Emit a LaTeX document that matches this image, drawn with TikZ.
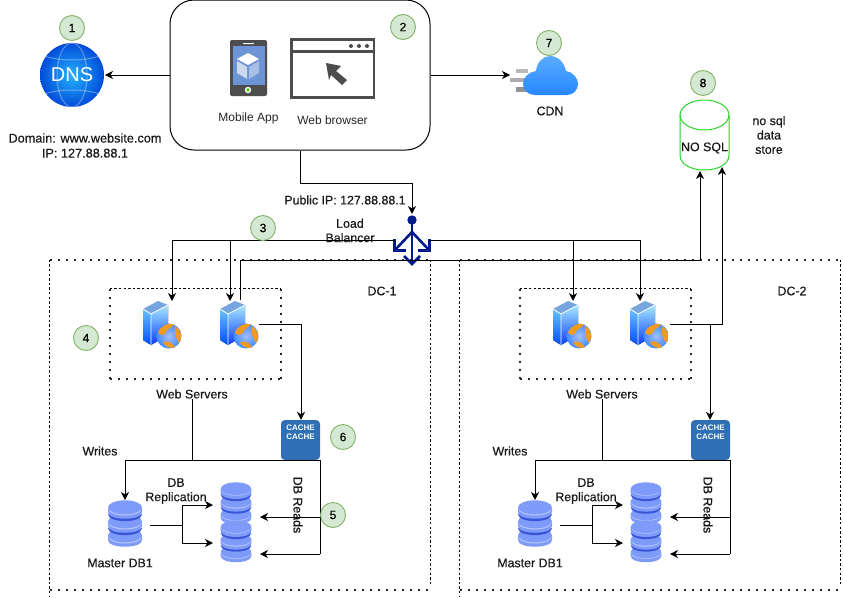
\documentclass[tikz,border=0pt]{standalone}
\usepackage{fontspec}
\setmainfont{Liberation Sans}
\newfontfamily\semifont[FakeBold=0.4]{Liberation Sans}
\newfontfamily\heavyfont[FakeBold=1.2]{Liberation Sans}
\usetikzlibrary{arrows.meta,calc}
\definecolor{badgefill}{HTML}{D5E8D4}
\definecolor{badgeline}{HTML}{82B366}
\definecolor{lbblue}{HTML}{001A8C}
\definecolor{cacheblue}{HTML}{2E6FB5}
\definecolor{dbmain}{HTML}{7F9BFA}
\definecolor{dbdark}{HTML}{3A56D8}
\definecolor{dblight}{HTML}{B4C5FB}
\definecolor{nosql}{HTML}{2BD42B}
\definecolor{icondark}{HTML}{4D4D4D}
\definecolor{globeorange}{HTML}{F29A1F}
\tikzset{
  x=1pt,y=-1pt,
  plainlbl/.style={font=\fontsize{12}{14}\selectfont,align=center,inner sep=0pt,text=black!85},
  lbl/.style={font=\fontsize{12.4}{14.4}\selectfont\semifont,align=center,inner sep=0pt,text=black!90},
  badge/.style={circle,draw=badgeline,fill=badgefill,line width=0.9pt,minimum size=25pt,inner sep=0pt,font=\fontsize{12}{14}\selectfont\semifont},
  conn/.style={draw=black,line width=1pt},
  arr/.style={conn,-{Stealth[length=8pt,width=8pt,inset=2.5pt]}},
  frame/.style={minimum width=380pt,minimum height=330pt,inner sep=0pt},
  wsframe/.style={minimum width=171pt,minimum height=90pt,inner sep=0pt},
  dotsH/.style={draw=black!85,line width=1.8pt,dash pattern=on 1.8pt off 6.2pt},
  dashV/.style={draw=black,line width=1pt,dash pattern=on 2.4pt off 2.2pt},
  lbstroke/.style={draw=lbblue,line width=2.6pt},
  cachebox/.style={fill=cacheblue,rounded corners=4pt,minimum width=39pt,minimum height=40pt,inner sep=0pt,text=white,align=center,font=\fontsize{8}{10}\selectfont\bfseries},
  pics/srv/.style={code={
    \fill[top color=cyan!60!blue!60,bottom color=blue!70!cyan] (0,9)--(8,14)--(8,45)--(0,40)--cycle;
    \fill[top color=blue!25!cyan!35,bottom color=blue!80!cyan!95] (8,14)--(25,5)--(25,35)--(8,45)--cycle;
    \fill[cyan!55!blue!55] (0,9)--(15,1)--(25,5)--(8,14)--cycle;
    \draw[white,line width=0.8pt] (0,9)--(8,14)--(25,5) (8,14)--(8,45);
    \shade[inner color=cyan!25!blue!35,outer color=blue!60!cyan!75] (26,36) circle[radius=12.5pt];
    \fill[globeorange] (15,33) .. controls (17,26) and (25,22) .. (31,24.5) .. controls (29,28) and (23,29) .. (22,34) .. controls (20,36) and (17,35) .. (15,33) -- cycle;
    \fill[globeorange] (32,26) .. controls (38,29) and (40,37) .. (36,43) .. controls (33,39) and (31,32) .. (32,26) -- cycle;
    \fill[globeorange] (20,42) .. controls (25,40) and (30,43) .. (32,47.5) .. controls (26,49) and (22,46) .. (20,42) -- cycle;
  }},
  pics/dblayers/.style={code={
    \foreach \cc in {35,21,7}{
      \ifnum\cc<35
        \fill[dbdark] (-17,\cc+6) -- (-17,\cc+6) .. controls (-17,\cc+15.5) and (17,\cc+15.5) .. (17,\cc+6) -- cycle;
      \fi
      \fill[dbmain] (-17,\cc) -- (-17,\cc+4) .. controls (-17,\cc+13) and (17,\cc+13) .. (17,\cc+4) -- (17,\cc) -- cycle;
      \fill[dblight] (-17,\cc) .. controls (-17,\cc+9.6) and (17,\cc+9.6) .. (17,\cc) -- cycle;
      \fill[dbmain] (0,\cc-.7) circle[x radius=17pt,y radius=7pt];
    }
  }},
}
\begin{document}
\begin{tikzpicture}
\useasboundingbox (0,0) rectangle (843,597);
\fill[white] (0,0) rectangle (843,597);

% data-centre frames
\node[frame] (dca) at (240,425) {};
\node[frame] (dcb) at (650,425) {};
\node[wsframe] (wsa) at (195.5,334) {};
\node[wsframe] (wsb) at (605.5,334) {};
\foreach \f in {dca,dcb}{
  \draw[dotsH] (\f.north west) -- (\f.north east);
  \draw[dotsH] (\f.south west) -- (\f.south east);
}
\draw[dashV] (dca.north west) -- ($(dca.south west)+(0,6)$);
\draw[dashV] (dca.north east) -- ($(dca.south east)+(0,-4)$);
\draw[dashV] (dcb.north west) -- ($(dcb.south west)+(0,6)$);
\draw[dashV] (dcb.north east) -- ($(dcb.south east)+(0,-4)$);
\foreach \f in {wsa,wsb}{
  \draw[dashV] (\f.north west) -- (\f.north east);
  \draw[dotsH] (\f.south west) -- (\f.south east);
  \draw[dotsH] (\f.north west) -- (\f.south west);
  \draw[dotsH] (\f.north east) -- (\f.south east);
}

% client box
\node[draw=black,line width=1pt,rounded corners=24pt,minimum width=260pt,minimum height=150pt,inner sep=0pt] (client) at (300,75) {};

% DNS icon
\shade[inner color=blue!35!cyan!85,outer color=blue!65!cyan!85!black] (72,75) circle[radius=32pt];
\begin{scope}
\clip (72,75) circle[radius=32pt];
\draw[white,opacity=.35,line width=1pt] (72,75) circle[x radius=15pt,y radius=32pt];
\draw[white,opacity=.35,line width=1pt] (40,54) .. controls (55,62) and (89,62) .. (104,54);
\draw[white,opacity=.35,line width=1pt] (40,96) .. controls (55,88) and (89,88) .. (104,96);
\end{scope}
\node[font=\fontsize{20}{22}\selectfont,text=white,inner sep=0pt] (dns) at (72,75) {DNS};
\coordinate (dnsE) at (105,75);

% phone
\fill[rounded corners=2pt,icondark] (230,40) rectangle (267,96);
\fill[cyan!45!blue!60] (232.5,46) rectangle (264.5,85);
\fill[white,rounded corners=.5pt] (243,43) rectangle (254,44);
\fill[white] (248,53) -- (259,59) -- (248,65) -- (237,59) -- cycle;
\fill[white,opacity=.65] (237,61) -- (247,67) -- (247,79) -- (237,73) -- cycle;
\fill[white,opacity=.4] (259,61) -- (249,67) -- (249,79) -- (259,73) -- cycle;
\fill[white] (248,90) circle[radius=3.2pt];
\fill[green!70!yellow!80!black] (248,90) circle[radius=1.8pt];

% browser
\draw[icondark,line width=2.4pt] (291.5,39.5) rectangle (374,97.5);
\draw[icondark,line width=2.4pt] (291.5,51.5) -- (374,51.5);
\foreach \dx in {351,359,367}{\fill[icondark] (\dx,46) circle[radius=2pt];}
\fill[icondark] (326,63) -- (341,66) -- (336,71) -- (347,80) -- (342,85) -- (331,75) -- (329,80) -- cycle;

\node[plainlbl] (mobile) at (248.5,118) {Mobile App};
\node[plainlbl] (webb) at (332.5,120) {Web browser};
\node[lbl,font=\fontsize{12.7}{15}\selectfont\semifont] (domain) at (85,145.5) {Domain: www.website.com\\IP: 127.88.88.1};

% CDN
\fill[gray!55] (516,69) rectangle (528,73);
\fill[gray!65] (510,78) rectangle (526,82);
\fill[gray!85] (516,87) rectangle (528,92);
\shade[top color=blue!50!cyan!65,bottom color=blue!55!cyan!85]
  (535,95) .. controls (528,95) and (523,90) .. (523,84) .. controls (523,77) and (529,72) .. (536,71)
  .. controls (537,62) and (543,56) .. (550,56) .. controls (558,56) and (564,62) .. (566,71)
  .. controls (573,72) and (578,78) .. (578,84) .. controls (578,90) and (573,95) .. (567,95) -- cycle;
\coordinate (cdnW) at (510,75);
\node[lbl] (cdnl) at (550,111) {CDN};

% NoSQL
\draw[nosql,line width=1pt] (680,115) -- (680,155) .. controls (680,175) and (729,175) .. (729,155) -- (729,115);
\draw[nosql,line width=1pt] (704.5,115) circle[x radius=24.5pt,y radius=15pt];
\node[lbl] (nosqll) at (704.5,148) {NO SQL};
\coordinate (nsa) at (700,171);
\coordinate (nsb) at (722,167);
\node[lbl] (nosqlt) at (769,135) {no sql\\data\\store};

% load balancer
\fill[lbblue] (412,220) circle[radius=4.7pt];
\coordinate (lb) at (412,214);
\coordinate (lbL) at (395,240);
\coordinate (lbR) at (429,240);
\draw[lbstroke] (412,220) -- (412,264);
\draw[lbstroke] (412,232) -- (395,250);
\draw[lbstroke] (412,232) -- (429,250);
\draw[lbstroke,miter limit=4] (394.5,239) -- (394.5,250.5) -- (406,250.5);
\draw[lbstroke,miter limit=4] (429.5,239) -- (429.5,250.5) -- (418,250.5);
\draw[lbstroke,miter limit=4] (404,256) -- (412,264) -- (420,256);

% servers
\foreach \px in {143,220,553,630}{\pic at (\px,300) {srv};}
\coordinate (s1) at (172,301);
\coordinate (s2) at (230,301);
\coordinate (s3) at (573,301);
\coordinate (s4) at (640,301);
\coordinate (s2up) at (240,300);
\coordinate (s2out) at (259,324);
\coordinate (s4out) at (670,324);

\node[lbl] (wsla) at (192,394) {Web Servers};
\node[lbl] (wslb) at (602,394) {Web Servers};

% caches
\node[cachebox] (ca) at (300.5,440) {\raisebox{16pt}{\shortstack{CACHE\\CACHE}}};
\node[cachebox] (cb) at (710.5,440) {\raisebox{16pt}{\shortstack{CACHE\\CACHE}}};

% databases
\foreach \dx/\nm in {0/a,410/b}{
  \begin{scope}[xshift=\dx pt]
    \pic at (125,501) {dblayers};
    \pic[scale=.9] at (236,483) {dblayers};
    \pic[scale=.9] at (236,521) {dblayers};
  \end{scope}
}
\coordinate (ma) at (125,500);   \coordinate (mb) at (535,500);
\coordinate (maE) at (150,525);  \coordinate (mbE) at (560,525);
\coordinate (ra1) at (213,505);  \coordinate (rb1) at (623,505);
\coordinate (ra2) at (213,543);  \coordinate (rb2) at (623,543);
\coordinate (ra3) at (260,517);  \coordinate (rb3) at (670,517);
\coordinate (ra4) at (260,554);  \coordinate (rb4) at (670,554);

\node[lbl] (wra) at (100,451) {Writes};
\node[lbl] (wrb) at (510,451) {Writes};
\node[lbl] (repa) at (176,491) {DB\\Replication};
\node[lbl] (repb) at (586,491) {DB\\Replication};
\node[lbl] (mla) at (120,563) {Master DB1};
\node[lbl] (mlb) at (530,563) {Master DB1};
\node[lbl,font=\fontsize{12.4}{14.4}\selectfont\heavyfont,rotate=-90] (rda) at (298,505) {DB Reads};
\node[lbl,font=\fontsize{12.4}{14.4}\selectfont\heavyfont,rotate=-90] (rdb) at (708,505) {DB Reads};
\node[lbl] (dcla) at (382,291) {DC-1};
\node[lbl] (dclb) at (792,291) {DC-2};
\node[lbl] (pub) at (345,200) {Public IP: 127.88.88.1};
\node[lbl] (lbl) at (350,230.5) {Load\\Balancer};

% connectors: top
\draw[arr] (client.west |- dnsE) -- (dnsE);
\draw[arr] (client.east |- cdnW) -- (cdnW);
\draw[arr] (client.south -| 300,0) -- (300,183) -- (412,183) -- (lb);
\draw[arr] (lbL) -- (s1 |- lbL) -- (s1);
\draw[arr] (s2 |- lbL) -- (s2);
\draw[arr] (lbR) -- (s4 |- lbR) -- (s4);
\draw[arr] (s3 |- lbR) -- (s3);
\draw[arr] (s2up) -- (240,260) -- (700,260) -- (nsa);
\draw[arr] (s4out) -- (722,324) -- (nsb);

% connectors: DC-1
\draw[arr] (s2out) -- (301,324) -- (ca.north -| 301,0);
\draw[conn] (wsla.south) -- (192,460);
\draw[arr] (320,460) -- (ma |- 0,460) -- (ma);
\draw[conn] (320,460) -- (320,554);
\draw[arr] (320,517) -- (ra3);
\draw[arr] (320,554) -- (ra4);
\draw[conn] (maE) -- (182,525);
\draw[arr] (182,525) -- (182,505) -- (ra1);
\draw[arr] (182,525) -- (182,543) -- (ra2);

% connectors: DC-2
\draw[arr] (710,324) -- (cb.north -| 710,0);
\draw[conn] (wslb.south) -- (602,460);
\draw[arr] (730,460) -- (mb |- 0,460) -- (mb);
\draw[conn] (730,460) -- (730,554);
\draw[arr] (730,517) -- (rb3);
\draw[arr] (730,554) -- (rb4);
\draw[conn] (mbE) -- (592,525);
\draw[arr] (592,525) -- (592,505) -- (rb1);
\draw[arr] (592,525) -- (592,543) -- (rb2);

% badges
\node[badge] (b1) at (72,28) {1};
\node[badge] (b2) at (403,27) {2};
\node[badge] (b3) at (263,228) {3};
\node[badge] (b4) at (86,338) {4};
\node[badge] (b5) at (333,515) {5};
\node[badge] (b6) at (343,437) {6};
\node[badge] (b7) at (549,43) {7};
\node[badge] (b8) at (703,83) {8};
\end{tikzpicture}
\end{document}
